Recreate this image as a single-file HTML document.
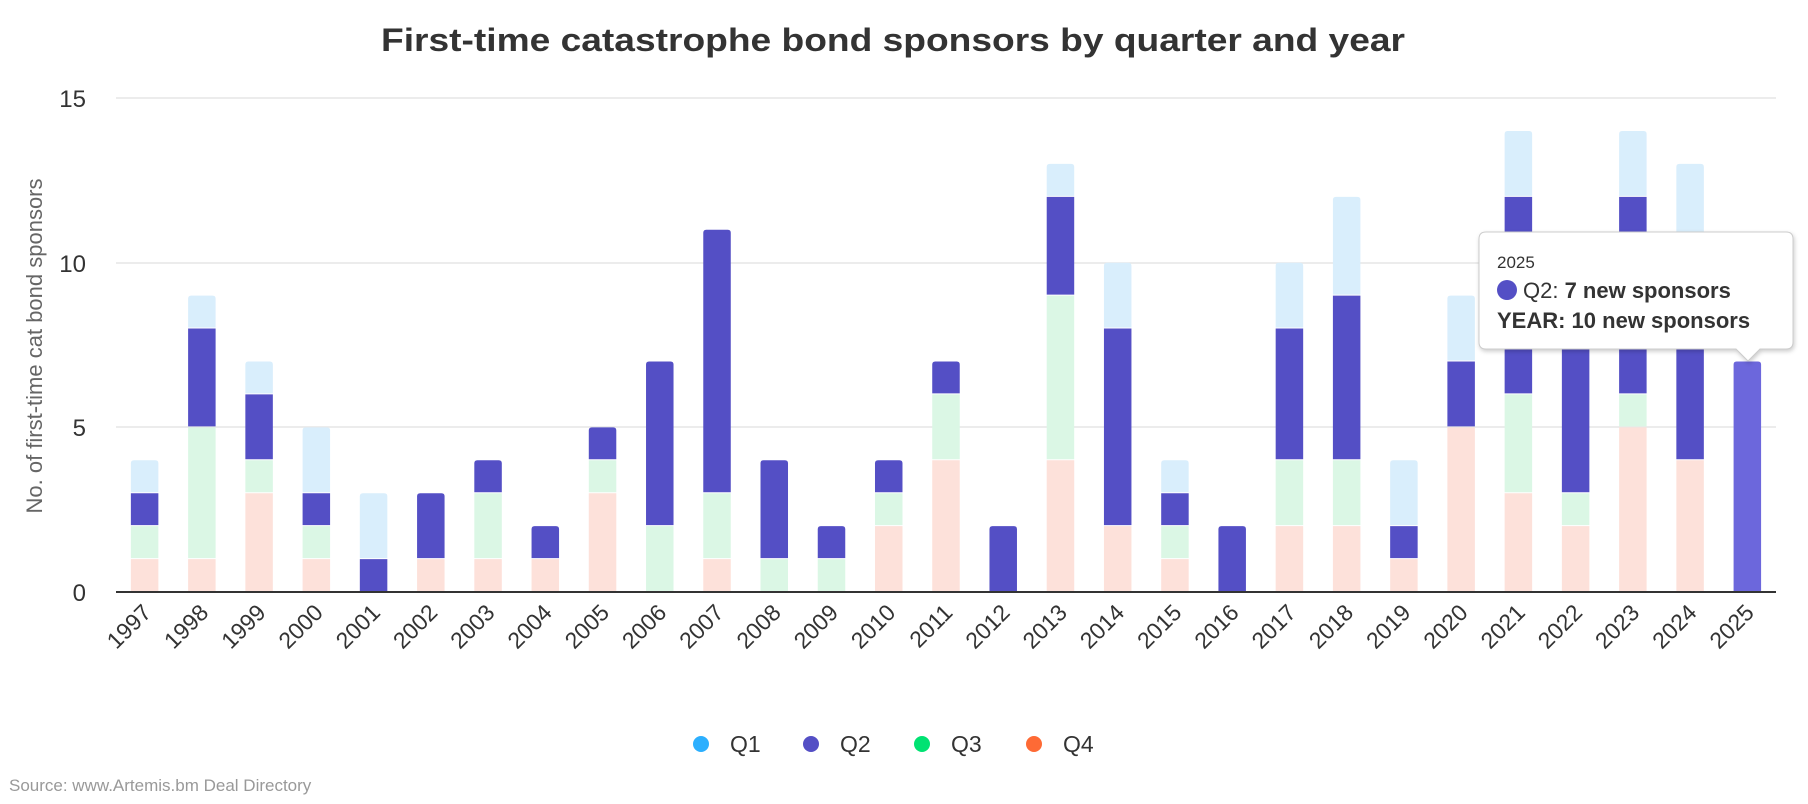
<!DOCTYPE html>
<html><head><meta charset="utf-8"><style>
html,body{margin:0;padding:0;background:#fff;}
svg{display:block;font-family:"Liberation Sans",Arial,sans-serif;}
</style></head><body>
<svg width="1808" height="804" viewBox="0 0 1808 804" xmlns="http://www.w3.org/2000/svg">
<text x="381" y="51" font-size="32" font-weight="bold" fill="#333" textLength="1024" lengthAdjust="spacingAndGlyphs">First-time catastrophe bond sponsors by quarter and year</text>
<g stroke="#e6e6e6" stroke-width="1.5">
<line x1="116" x2="1776" y1="98" y2="98"/>
<line x1="116" x2="1776" y1="263" y2="263"/>
<line x1="116" x2="1776" y1="427" y2="427"/>
</g>
<g font-size="24" fill="#333" text-anchor="end">
<text x="86" y="107">15</text>
<text x="86" y="272">10</text>
<text x="86" y="436">5</text>
<text x="86" y="601">0</text>
</g>
<text transform="translate(42,346) rotate(-90)" text-anchor="middle" font-size="22" fill="#666">No. of first-time cat bond sponsors</text>
<g id="bars"></g>
<line x1="116" x2="1776" y1="592" y2="592" stroke="#333" stroke-width="2"/>
<g id="xl" font-size="23" fill="#333"></g>
<g font-size="23" fill="#333">
<circle cx="701" cy="744" r="8" fill="#2caffe"/><text x="730" y="752">Q1</text>
<circle cx="811" cy="744" r="8" fill="#544fc5"/><text x="840" y="752">Q2</text>
<circle cx="922" cy="744" r="8" fill="#00e272"/><text x="951" y="752">Q3</text>
<circle cx="1034" cy="744" r="8" fill="#fe6a35"/><text x="1063" y="752">Q4</text>
</g>
<text x="9" y="791" font-size="17" fill="#999">Source: www.Artemis.bm Deal Directory</text>
<g>
<path d="M1486,232 H1786 Q1793,232 1793,239 V342 Q1793,349 1786,349 H1760 L1748,361 L1736,349 H1486 Q1479,349 1479,342 V239 Q1479,232 1486,232 Z" fill="#fff" stroke="#ccc" stroke-width="1" style="filter:drop-shadow(1px 2px 2px rgba(0,0,0,0.2))"/>
<text x="1497" y="268" font-size="17" fill="#333">2025</text>
<circle cx="1507" cy="290" r="10" fill="#544fc5"/>
<text x="1523" y="298" font-size="22" fill="#333">Q2: <tspan font-weight="bold">7 new sponsors</tspan></text>
<text x="1497" y="328" font-size="22" font-weight="bold" fill="#333">YEAR: 10 new sponsors</text>
</g>
</svg>
<script>
var data=[["1997",1,1,1,1],["1998",1,4,3,1],["1999",3,1,2,1],["2000",1,1,1,2],["2001",0,0,1,2],["2002",1,0,2,0],["2003",1,2,1,0],["2004",1,0,1,0],["2005",3,1,1,0],["2006",0,2,5,0],["2007",1,2,8,0],["2008",0,1,3,0],["2009",0,1,1,0],["2010",2,1,1,0],["2011",4,2,1,0],["2012",0,0,2,0],["2013",4,5,3,1],["2014",2,0,6,2],["2015",1,1,1,1],["2016",0,0,2,0],["2017",2,2,4,2],["2018",2,2,5,3],["2019",1,0,1,2],["2020",5,0,2,2],["2021",3,3,6,2],["2022",2,1,7,0],["2023",5,1,6,2],["2024",4,0,6,3],["2025",0,0,7,0]];
var cols=["#fde1da","#dbf7e5","#544fc5","#d9eefc"];
var ns="http://www.w3.org/2000/svg",g=document.getElementById("bars"),xl=document.getElementById("xl");
var L=116,W=57.24,y0=592,u=32.93,bw=27.5;
data.forEach(function(d,i){
 var cx=L+W*(i+0.5),x=cx-bw/2,acc=0,top=-1;
 for(var k=1;k<=4;k++) if(d[k]>0) top=k;
 for(var k=1;k<=4;k++){var v=d[k];if(!v)continue;
  var yb=y0-acc*u,yt=y0-(acc+v)*u;acc+=v;
  var c=cols[k-1]; if(d[0]=="2025")c="#6c67dc";
  var p=document.createElementNS(ns,"path"),h=yb-yt-(k>1&&acc-v>0?1:0),r=(k==top)?3:0;
  var yb2=yt+h;
  p.setAttribute("d","M"+x+","+yb2+" V"+(yt+r)+" Q"+x+","+yt+" "+(x+r)+","+yt+" H"+(x+bw-r)+" Q"+(x+bw)+","+yt+" "+(x+bw)+","+(yt+r)+" V"+yb2+" Z");
  p.setAttribute("fill",c);g.appendChild(p);}
 var t=document.createElementNS(ns,"text");
 t.setAttribute("transform","translate("+(cx+8)+",614) rotate(-45)");
 t.setAttribute("text-anchor","end");t.textContent=d[0];xl.appendChild(t);
});
</script>
</body></html>
